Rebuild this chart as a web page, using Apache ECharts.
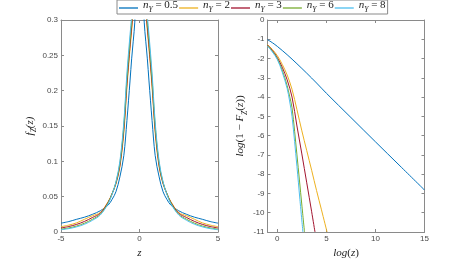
<!DOCTYPE html>
<html>
<head>
<meta charset="utf-8">
<script src="https://cdn.jsdelivr.net/npm/echarts@6/dist/echarts.min.js"></script>
<style>html,body{margin:0;padding:0;background:#fff}#c{width:469px;height:261px}</style>
</head>
<body>
<div id="c"></div>
<script>
// ---- data ----
const seriesNames = ['0.5', '2', '3', '6', '8'];
const colors = ['#0072BD', '#EDB120', '#A2142F', '#77AC30', '#4DBEEE'];

// left panel: density f_Z(z)
const zLeft = [-5,-4.5,-4,-3.5,-3,-2.5,-2,-1.75,-1.5,-1.25,-1,-0.8,-0.6,-0.5,-0.4,-0.3,-0.2,-0.1,0,0.1,0.2,0.3,0.4,0.5,0.6,0.8,1,1.25,1.5,1.75,2,2.5,3,3.5,4,4.5,5];
const fBlue   = [0.0125,0.0148,0.018,0.021,0.025,0.030,0.038,0.046,0.057,0.078,0.108,0.158,0.215,0.245,0.27,0.297,0.36,0.55,2,0.55,0.36,0.297,0.27,0.245,0.215,0.158,0.108,0.078,0.057,0.046,0.038,0.030,0.025,0.021,0.018,0.0148,0.0125];
const fOrange = [0.0075,0.0098,0.013,0.018,0.023,0.0275,0.043,0.054,0.068,0.092,0.14,0.205,0.26,0.285,0.315,0.37,0.5,0.8,2,0.8,0.5,0.37,0.315,0.285,0.26,0.205,0.14,0.092,0.068,0.054,0.043,0.0275,0.023,0.018,0.013,0.0098,0.0075];
const fRed    = [0.0057,0.0078,0.0108,0.015,0.0205,0.0265,0.042,0.054,0.069,0.094,0.145,0.21,0.265,0.29,0.32,0.38,0.52,0.85,2,0.85,0.52,0.38,0.32,0.29,0.265,0.21,0.145,0.094,0.069,0.054,0.042,0.0265,0.0205,0.015,0.0108,0.0078,0.0057];
const fGreen  = [0.004,0.0058,0.0085,0.0125,0.018,0.025,0.041,0.054,0.07,0.097,0.15,0.217,0.272,0.298,0.33,0.39,0.54,0.9,2,0.9,0.54,0.39,0.33,0.298,0.272,0.217,0.15,0.097,0.07,0.054,0.041,0.025,0.018,0.0125,0.0085,0.0058,0.004];
const fLight  = [0.0032,0.0048,0.0073,0.011,0.0165,0.024,0.040,0.053,0.071,0.10,0.155,0.225,0.28,0.305,0.335,0.40,0.55,0.9,2,0.9,0.55,0.40,0.335,0.305,0.28,0.225,0.155,0.10,0.071,0.053,0.040,0.024,0.0165,0.011,0.0073,0.0048,0.0032];

// right panel: log survival vs log z
const xBlue   = [-1,-0.5,0,1,2,3,4,5,7.5,10,12.5,15];
const yBlue   = [-1.02,-1.18,-1.37,-1.8,-2.27,-2.76,-3.27,-3.8,-5.06,-6.32,-7.57,-8.82];
const xOrange = [-1,-0.5,0,0.5,1,1.5,2,2.5,3,3.5,4,4.5,5.07];
const yOrange = [-1.28,-1.53,-1.85,-2.3,-2.85,-3.6,-4.65,-5.75,-6.78,-7.8,-8.85,-9.85,-11];
const xRed    = [-1,-0.5,0,0.5,1,1.5,2,2.5,3,3.5,3.84];
const yRed    = [-1.3,-1.58,-1.95,-2.45,-3.1,-4.0,-5.5,-6.95,-8.45,-9.95,-11];
const xGreen  = [-1,-0.5,0,0.5,1,1.25,1.5,2,2.5,2.77];
const yGreen  = [-1.33,-1.62,-2.0,-2.6,-3.4,-3.95,-4.55,-7.0,-9.6,-11];
const xLight  = [-1,-0.5,0,0.5,1,1.25,1.5,2,2.3,2.61];
const yLight  = [-1.35,-1.66,-2.05,-2.7,-3.55,-4.2,-5.0,-7.6,-9.3,-11];

const xTicksLeft = [-5, 0, 5];
const yTicksLeft = [0, 0.05, 0.1, 0.15, 0.2, 0.25, 0.3];
const xTicksRight = [0, 5, 10, 15];

// ---- chart ----
const pair = (xs, ys) => xs.map((x, i) => [x, ys[i]]);
const leftSets = [fBlue, fOrange, fRed, fGreen, fLight];
const rightSets = [[xBlue,yBlue],[xOrange,yOrange],[xRed,yRed],[xGreen,yGreen],[xLight,yLight]];

const axisCol = '#8a8a8a';
const labCol = '#4a4a4a';
const tickFont = { color: labCol, fontSize: 8, fontFamily: 'Liberation Sans, Arial, sans-serif' };
const mathRich = {
  i: { fontFamily: 'Liberation Serif', fontStyle: 'italic', fontSize: 11, color: '#222', padding: [0,0,3,0], lineHeight: 12, verticalAlign: 'bottom' },
  r: { fontFamily: 'Liberation Serif', fontSize: 11, color: '#222', padding: [0,0,3,0], lineHeight: 12, verticalAlign: 'bottom' },
  s: { fontFamily: 'Liberation Serif', fontStyle: 'italic', fontSize: 7.5, color: '#222', lineHeight: 9, verticalAlign: 'bottom' }
};

function frameAxes(gridIndex, min, max, interval, isX) {
  const common = {
    gridIndex, type: 'value', min, max, interval,
    axisLine: { show: true, onZero: false, lineStyle: { color: axisCol, width: 1 } },
    axisTick: { show: true, inside: true, length: 3, lineStyle: { color: axisCol } },
    splitLine: { show: false }
  };
  return [
    Object.assign({}, common, { position: isX ? 'bottom' : 'left', axisLabel: Object.assign({ margin: 3 }, tickFont) }),
    Object.assign({}, common, { position: isX ? 'top' : 'right', axisLabel: { show: false } })
  ];
}

const xa = [
  ...frameAxes(0, -5, 5, 5, true),
  ...frameAxes(1, -1, 15, 5, true)
];
const ya = [
  ...frameAxes(0, 0, 0.3, 0.05, false),
  ...frameAxes(1, -11, 0, 1, false)
];
// right x axis ticks at 0,5,10,15 while min is -1
xa[2].interval = null; xa[3].interval = null;
xa[2].axisTick = Object.assign({}, xa[2].axisTick, { customValues: xTicksRight });
xa[3].axisTick = Object.assign({}, xa[3].axisTick, { customValues: xTicksRight });
xa[2].axisLabel = Object.assign({}, xa[2].axisLabel, { customValues: xTicksRight, formatter: v => String(v) });

xa[0].name = '{i|z}';
xa[0].nameLocation = 'middle'; xa[0].nameGap = 9; xa[0].nameTextStyle = { rich: mathRich };
xa[2].name = '{i|log}{r|(}{i|z}{r|)}';
xa[2].nameLocation = 'middle'; xa[2].nameGap = 9; xa[2].nameTextStyle = { rich: mathRich };
ya[0].name = '{i|f}{s|Z}{i|(z)}';
ya[0].nameLocation = 'middle'; ya[0].nameGap = 17; ya[0].nameRotate = 90; ya[0].nameTextStyle = { rich: mathRich };
ya[2].name = '{i|log}{r|(1 − }{i|F}{s|Z}{r|(}{i|z}{r|))}';
ya[2].nameLocation = 'middle'; ya[2].nameGap = 13; ya[2].nameRotate = 90; ya[2].nameTextStyle = { rich: mathRich };
ya[0].axisLabel.formatter = v => String(v);

const series = [];
seriesNames.forEach((nm, k) => {
  series.push({
    name: nm, type: 'line', xAxisIndex: 0, yAxisIndex: 0, symbol: 'none', smooth: 0.35,
    lineStyle: { width: 1, color: colors[k] }, itemStyle: { color: colors[k] },
    data: pair(zLeft, leftSets[k]), clip: true, z: 2 + k
  });
});
seriesNames.forEach((nm, k) => {
  series.push({
    name: nm, type: 'line', xAxisIndex: 2, yAxisIndex: 2, symbol: 'none', smooth: 0.35,
    lineStyle: { width: 1, color: colors[k] }, itemStyle: { color: colors[k] },
    data: pair(rightSets[k][0], rightSets[k][1]), clip: true, z: 2 + k
  });
});

const chart = echarts.init(document.getElementById('c'), null, { renderer: 'canvas' });
chart.setOption({
  animation: false,
  backgroundColor: '#fff',
  grid: [
    { left: 61, right: 251, top: 20, bottom: 29, containLabel: false, outerBoundsMode: 'none' },
    { left: 267.5, right: 44.5, top: 20, bottom: 29, containLabel: false, outerBoundsMode: 'none' }
  ],
  legend: {
    data: seriesNames,
    left: 117, top: 0,
    orient: 'horizontal',
    icon: 'rect',
    itemWidth: 19, itemHeight: 1.3, itemGap: 1,
    padding: [0, 2, 0, 2],
    borderColor: axisCol, borderWidth: 1, backgroundColor: '#fff',
    formatter: n => '{i|n}{s|Y}{r| = ' + n + '}',
    textStyle: { rich: mathRich }
  },
  xAxis: xa,
  yAxis: ya,
  series
});
</script>
</body>
</html>
